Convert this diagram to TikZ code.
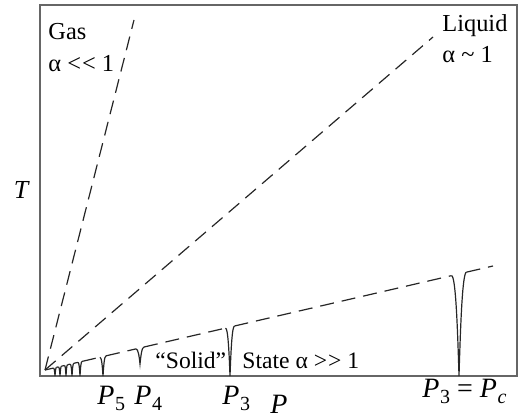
\documentclass[tikz,border=0pt]{standalone}
\usepackage{fontspec}
\setmainfont{Liberation Serif}
\usepackage{tikz}
\usetikzlibrary{positioning}

\newcommand{\Plab}[1]{\textit{P}\kern0.3pt\raisebox{-0.5ex}{\fontsize{10}{11}\selectfont #1}}
\newcommand{\dbl}[1]{#1\kern0.5pt#1}

\begin{document}
\begin{tikzpicture}[
    x=0.5pt, y=0.5pt,
    frame/.style={draw=black!60, line width=1pt},
    phase/.style={draw=black!85, line width=0.6pt, dash pattern=on 7pt off 4pt},
    dip/.style={draw=black!85, line width=0.6pt},
    region/.style={inner sep=0pt, anchor=base west, font=\fontsize{12.2}{14}\selectfont},
    plab/.style={inner sep=0pt, anchor=base west, font=\fontsize{14}{16}\selectfont}
]
\useasboundingbox (0,0) rectangle (519,418);

% axes box
\draw[frame] (40,42) rectangle (517,413);

% phase boundaries
\coordinate (O) at (45,48);
\coordinate (gasend) at (134,398);
\coordinate (liqend) at (433,381);
\coordinate (solend) at (493,152);

\draw[phase] (O) -- (gasend);
\draw[phase] (O) -- (liqend);

% dips on the solid line
\foreach \i/\x/\w/\b in {1/55/1.5/42, 2/60/1.5/42, 3/66/1.5/42, 4/72/1.8/42,
    5/80/2/42, 6/103/3/42, 7/140/4/54, 8/230/4.5/42, 9/459/7.5/42} {
  \pgfmathsetmacro\yl{48+(\x-\w-45)/448*104}
  \pgfmathsetmacro\yr{48+(\x+\w-45)/448*104}
  \pgfmathsetmacro\dd{0.5*(\yl-\b)}
  \coordinate (dipL\i) at (\x-\w,\yl);
  \coordinate (dipB\i) at (\x,\b);
  \coordinate (dipR\i) at (\x+\w,\yr);
  \draw[dip] (dipL\i) .. controls +(0.55*\w,0) and +(-0.2*\w,\dd) .. (dipB\i)
                      .. controls +(0.2*\w,\dd) and +(-0.55*\w,0) .. (dipR\i);
}
\draw[phase] (O) -- (dipL1);
\foreach \i/\j in {1/2, 2/3, 3/4, 4/5, 5/6, 6/7, 7/8, 8/9}
  \draw[phase] (dipR\i) -- (dipL\j);
\draw[phase] (dipR9) -- (solend);

% region labels
\node[region] (gas) at (48,378) {Gas};
\node[region] (gasa) at (48,346) {α \dbl{<} 1};
\node[region] (liq) at (442,386) {Liquid};
\node[region] (liqa) at (442,355) {α \textasciitilde\ 1};
\node[region, font=\fontsize{11.8}{13}\selectfont] (sol) at (155,50) {“Solid”};
\node[region, font=\fontsize{11.8}{13}\selectfont] (sola) at (242,50) {State α \dbl{>} 1};

% axis labels
\node[inner sep=0pt, font=\fontsize{13}{15}\itshape] (T) at (21,228) {T};
\node[plab] (P) at (270,5) {\textit{P}};
\node[plab] (P5) at (97,14) {\Plab{5}};
\node[plab] (P4) at (134,14) {\Plab{4}};
\node[plab] (P3) at (222,14) {\Plab{3}};
\node[plab] (Pc) at (422,21) {\Plab{3} = \Plab{\textit{c}}};
\end{tikzpicture}
\end{document}
